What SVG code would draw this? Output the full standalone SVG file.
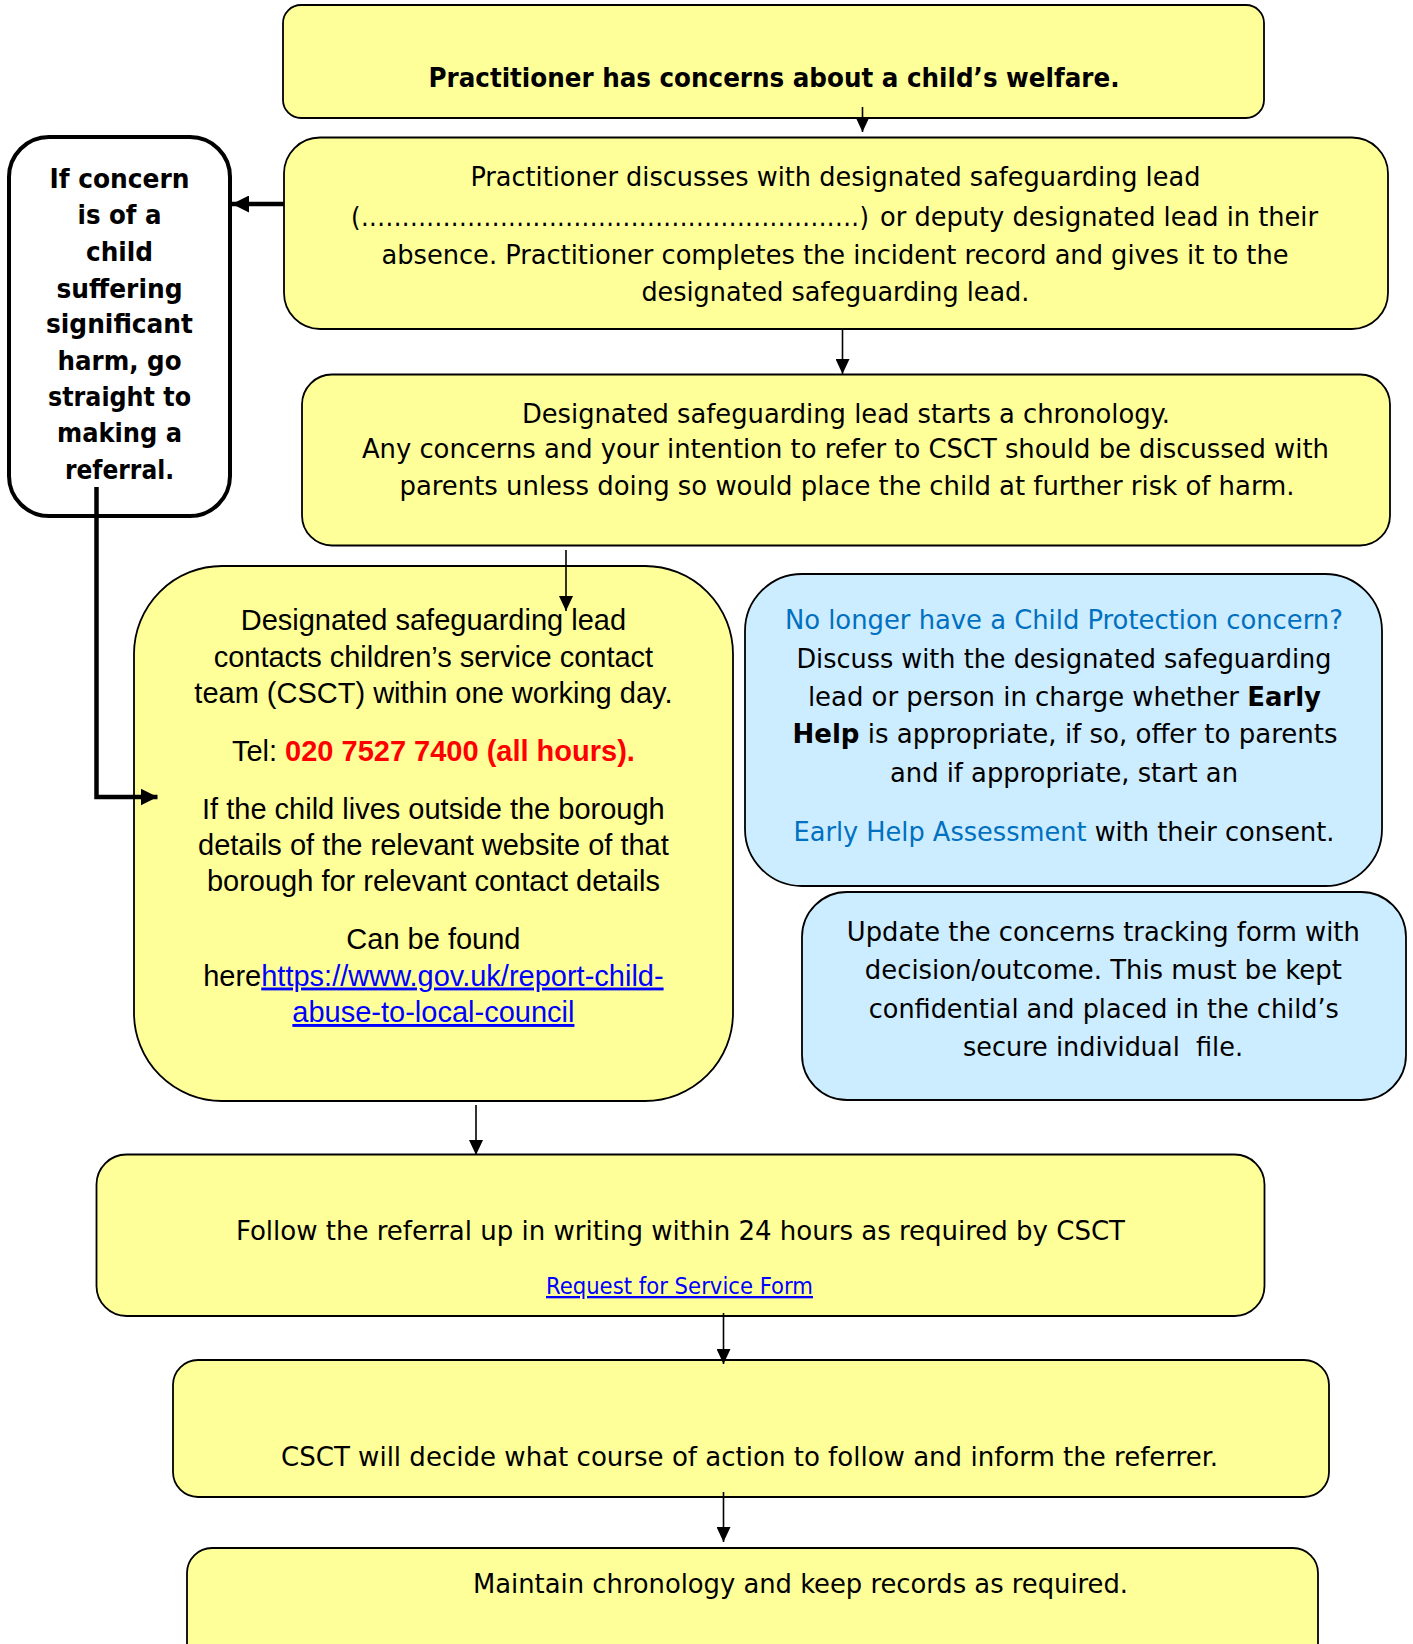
<svg xmlns="http://www.w3.org/2000/svg" width="1413" height="1644" viewBox="0 0 1413 1644">
<style>
.y{fill:#FFFF99;stroke:#000;stroke-width:1.8}
.bl{fill:#CCECFF;stroke:#000;stroke-width:1.8}
.w{fill:#fff;stroke:#000;stroke-width:4}
.t{font-family:"DejaVu Sans Condensed","DejaVu Sans",sans-serif;font-size:27px;fill:#000}
.ar{font-family:"Liberation Sans",Arial,sans-serif;font-size:29px;fill:#000;text-anchor:middle}
.c{text-anchor:middle}
.bd{font-weight:bold}
.blue{fill:#0070C0}
.red{fill:#FF0000;font-weight:bold}
.link{fill:#0000FF;text-decoration:underline}
.ln{stroke:#000;stroke-width:1.6;fill:none}
.tk{stroke:#000;stroke-width:4.5;fill:none}
</style>
<defs>
<marker id="a" viewBox="0 0 15 14" refX="15" refY="7" markerWidth="15" markerHeight="14" markerUnits="userSpaceOnUse" orient="auto"><path d="M0,0 L15,7 L0,14 z" fill="#000"/></marker>
<marker id="ak" viewBox="0 0 17 17" refX="17" refY="8.5" markerWidth="17" markerHeight="17" markerUnits="userSpaceOnUse" orient="auto"><path d="M0,0 L17,8.5 L0,17 z" fill="#000"/></marker>
</defs>

<g id="n1">
<rect class="y" x="283" y="5" width="981" height="113" rx="18"/>
<text class="t c bd" x="774" y="87" textLength="691" lengthAdjust="spacingAndGlyphs">Practitioner has concerns about a child’s welfare.</text>
</g>

<g id="n2">
<rect class="y" x="284" y="137.5" width="1104" height="191.5" rx="36"/>
<text class="t c" x="835.4" y="186" textLength="730" lengthAdjust="spacingAndGlyphs">Practitioner discusses with designated safeguarding lead</text>
<text class="t" y="225.5"><tspan x="351" textLength="518" lengthAdjust="spacing">(.............................................................)</tspan><tspan x="880" textLength="438" lengthAdjust="spacingAndGlyphs">or deputy designated lead in their</tspan></text>
<text class="t c" x="835" y="263.5" textLength="907" lengthAdjust="spacingAndGlyphs">absence. Practitioner completes the incident record and gives it to the</text>
<text class="t c" x="835.4" y="300.5" textLength="388" lengthAdjust="spacingAndGlyphs">designated safeguarding lead.</text>
</g>

<g id="n3">
<rect class="y" x="302" y="374.5" width="1088" height="171" rx="30"/>
<text class="t c" x="845.9" y="422.5" textLength="648" lengthAdjust="spacingAndGlyphs">Designated safeguarding lead starts a chronology.</text>
<text class="t c" x="845.4" y="458" textLength="967" lengthAdjust="spacingAndGlyphs">Any concerns and your intention to refer to CSCT should be discussed with</text>
<text class="t c" x="847" y="494.5" textLength="895" lengthAdjust="spacingAndGlyphs">parents unless doing so would place the child at further risk of harm.</text>
</g>

<g id="n0">
<rect class="w" x="9" y="137" width="221" height="379" rx="40"/>
<text class="t c bd" x="119.5" y="187.5" textLength="140" lengthAdjust="spacingAndGlyphs">If concern</text>
<text class="t c bd" x="119.5" y="224" textLength="84" lengthAdjust="spacingAndGlyphs">is of a</text>
<text class="t c bd" x="119.5" y="260.7" textLength="67" lengthAdjust="spacingAndGlyphs">child</text>
<text class="t c bd" x="119.5" y="297.5" textLength="126" lengthAdjust="spacingAndGlyphs">suffering</text>
<text class="t c bd" x="119.5" y="333" textLength="147" lengthAdjust="spacingAndGlyphs">significant</text>
<text class="t c bd" x="119.5" y="369.5" textLength="124" lengthAdjust="spacingAndGlyphs">harm, go</text>
<text class="t c bd" x="119.5" y="406" textLength="143" lengthAdjust="spacingAndGlyphs">straight to</text>
<text class="t c bd" x="119.5" y="442" textLength="125" lengthAdjust="spacingAndGlyphs">making a</text>
<text class="t c bd" x="119.5" y="478.6" textLength="109" lengthAdjust="spacingAndGlyphs">referral.</text>
</g>

<g id="n4">
<rect class="y" x="134" y="566" width="599" height="535" rx="88"/>
<text class="ar" x="433.4" y="630">Designated safeguarding lead</text>
<text class="ar" x="433.4" y="666.5">contacts children’s service contact</text>
<text class="ar" x="433.4" y="702.5">team (CSCT) within one working day.</text>
<text class="ar" x="433.4" y="760.5">Tel: <tspan class="red">020 7527 7400 (all hours).</tspan></text>
<text class="ar" x="433.4" y="818.5">If the child lives outside the borough</text>
<text class="ar" x="433.4" y="855">details of the relevant website of that</text>
<text class="ar" x="433.4" y="891">borough for relevant contact details</text>
<text class="ar" x="433.4" y="949">Can be found</text>
<text class="ar" x="433.4" y="985.5">here<tspan class="link">https://www.gov.uk/report-child-</tspan></text>
<text class="ar" x="433.4" y="1022"><tspan class="link">abuse-to-local-council</tspan></text>
</g>

<g id="n5">
<rect class="bl" x="745" y="574" width="637" height="312" rx="57"/>
<text class="t c blue" x="1063.9" y="629" textLength="558" lengthAdjust="spacingAndGlyphs">No longer have a Child Protection concern?</text>
<text class="t c" x="1063.9" y="667.5" textLength="535" lengthAdjust="spacingAndGlyphs">Discuss with the designated safeguarding</text>
<text class="t c" x="1064.4" y="705.5" textLength="513" lengthAdjust="spacingAndGlyphs">lead or person in charge whether <tspan class="bd">Early</tspan></text>
<text class="t c" x="1065" y="743" textLength="545" lengthAdjust="spacingAndGlyphs"><tspan class="bd">Help</tspan> is appropriate, if so, offer to parents</text>
<text class="t c" x="1064" y="782" textLength="348" lengthAdjust="spacingAndGlyphs">and if appropriate, start an</text>
<text class="t c" x="1064" y="841" textLength="541" lengthAdjust="spacingAndGlyphs"><tspan class="blue">Early Help Assessment</tspan> with their consent.</text>
</g>

<g id="n6">
<rect class="bl" x="802" y="892" width="604" height="208" rx="45"/>
<text class="t c" x="1103.3" y="941" textLength="513" lengthAdjust="spacingAndGlyphs">Update the concerns tracking form with</text>
<text class="t c" x="1103.3" y="978.6" textLength="477" lengthAdjust="spacingAndGlyphs">decision/outcome. This must be kept</text>
<text class="t c" x="1103.8" y="1018" textLength="470" lengthAdjust="spacingAndGlyphs">confidential and placed in the child’s</text>
<text class="t c" x="1103" y="1055.5" textLength="280" lengthAdjust="spacingAndGlyphs" style="white-space:pre">secure individual  file.</text>
</g>

<g id="n7">
<rect class="y" x="96.5" y="1154.5" width="1168" height="161.5" rx="30"/>
<text class="t c" x="680.5" y="1240" textLength="889" lengthAdjust="spacingAndGlyphs">Follow the referral up in writing within 24 hours as required by CSCT</text>
<text class="t c link" x="679.5" y="1294" style="font-size:23px" textLength="267" lengthAdjust="spacingAndGlyphs">Request for Service Form</text>
</g>

<g id="n8">
<rect class="y" x="173" y="1360" width="1156" height="137" rx="25"/>
<text class="t c" x="749.5" y="1466" textLength="937" lengthAdjust="spacingAndGlyphs">CSCT will decide what course of action to follow and inform the referrer.</text>
</g>

<g id="n9">
<rect class="y" x="187" y="1548" width="1131" height="130" rx="25"/>
<text class="t c" x="800.5" y="1593" textLength="655" lengthAdjust="spacingAndGlyphs">Maintain chronology and keep records as required.</text>
</g>

<g id="connectors">
<line class="ln" x1="862.5" y1="107" x2="862.5" y2="132" marker-end="url(#a)"/>
<line class="ln" x1="842.5" y1="329" x2="842.5" y2="374" marker-end="url(#a)"/>
<line class="ln" x1="566" y1="550" x2="566" y2="611" marker-end="url(#a)"/>
<line class="ln" x1="476" y1="1105" x2="476" y2="1155" marker-end="url(#a)"/>
<line class="ln" x1="723.5" y1="1313" x2="723.5" y2="1364" marker-end="url(#a)"/>
<line class="ln" x1="723.5" y1="1492" x2="723.5" y2="1542" marker-end="url(#a)"/>
<line class="tk" x1="284" y1="204" x2="232" y2="204" marker-end="url(#ak)"/>
<polyline class="tk" points="96.5,487 96.5,797 157.5,797" marker-end="url(#ak)"/>
</g>
</svg>
